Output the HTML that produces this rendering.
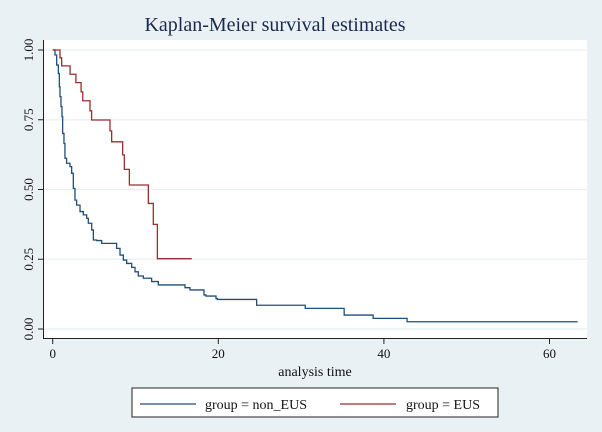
<!DOCTYPE html>
<html><head><meta charset="utf-8"><style>
html,body{margin:0;padding:0;background:#eaf1f4;}
svg{display:block;font-family:"Liberation Serif",serif;}
</style></head><body>
<svg id="chart" width="602" height="432" viewBox="0 0 602 432" xmlns="http://www.w3.org/2000/svg">
<rect x="0" y="0" width="602" height="432" fill="#eaf1f4"/>
<text x="275" y="31" text-anchor="middle" font-size="20" fill="#1a2a4e">Kaplan-Meier survival estimates</text>
<rect x="44" y="40" width="543" height="298" fill="#ffffff"/>
<g id="grid"></g>
<g id="axes"></g>
<g id="series"></g>
<text x="315" y="376" text-anchor="middle" font-size="14" fill="#111">analysis time</text>
<g>
<rect x="132" y="388" width="366" height="29" fill="#fff" stroke="#222" stroke-width="1"/>
<line x1="140" y1="404" x2="196" y2="404" stroke="#1f4e79" stroke-width="1.3"/>
<text x="205" y="409" font-size="14" fill="#111">group = non_EUS</text>
<line x1="340" y1="404" x2="396" y2="404" stroke="#9b2d30" stroke-width="1.3"/>
<text x="406" y="409" font-size="14" fill="#111">group = EUS</text>
</g>
</svg>
<script>
const xTicks = [0, 20, 40, 60];
const yTicks = [0, 0.25, 0.5, 0.75, 1];
const yTickLabels = ["0.00", "0.25", "0.50", "0.75", "1.00"];
const nonEusTimes = [0, 0.28, 0.48, 0.68, 0.8, 0.88, 1.0, 1.12, 1.2, 1.36, 1.48, 1.68, 2.09, 2.29, 2.49, 2.69, 2.89, 3.3, 3.7, 4.1, 4.3, 4.71, 4.91, 5.3, 5.92, 6.92, 7.72, 8.13, 8.53, 8.93, 9.54, 9.94, 10.34, 10.95, 11.95, 12.76, 15.78, 15.98, 16.58, 18.27, 18.51, 19.72, 19.88, 24.43, 24.63, 30.5, 35.2, 38.7, 42.8];
const nonEusSurv = [1.0, 0.982, 0.946, 0.916, 0.868, 0.833, 0.797, 0.761, 0.701, 0.665, 0.612, 0.594, 0.582, 0.558, 0.504, 0.462, 0.444, 0.421, 0.409, 0.397, 0.379, 0.355, 0.319, 0.317, 0.307, 0.307, 0.289, 0.265, 0.247, 0.235, 0.221, 0.205, 0.19, 0.182, 0.17, 0.158, 0.158, 0.148, 0.14, 0.122, 0.118, 0.109, 0.106, 0.106, 0.085, 0.074, 0.05, 0.038, 0.026];
const nonEusEnd = 63.4;
const eusTimes = [0, 0.88, 1.08, 2.1, 2.8, 3.43, 3.63, 4.5, 4.7, 6.92, 7.12, 8.45, 8.65, 9.26, 11.55, 12.15, 12.64];
const eusSurv = [1.0, 0.972, 0.943, 0.913, 0.883, 0.85, 0.818, 0.782, 0.749, 0.71, 0.671, 0.624, 0.572, 0.516, 0.45, 0.375, 0.252];
const eusEnd = 16.79;

const NS = "http://www.w3.org/2000/svg";
const X = t => 52.7 + t * 8.28;
const Y = s => 329 - s * 279;
function mk(tag, attrs, parent) {
  const el = document.createElementNS(NS, tag);
  for (const k in attrs) el.setAttribute(k, attrs[k]);
  parent.appendChild(el);
  return el;
}
const grid = document.getElementById('grid');
const axes = document.getElementById('axes');
const series = document.getElementById('series');
yTicks.forEach((v, i) => {
  const g = mk('line', {x1: 44, x2: 587, y1: Y(v), y2: Y(v), stroke: '#e8eff2', 'stroke-width': 1.2}, grid);
  
  
  const tk = mk('line', {x1: 38, x2: 43, y1: Y(v), y2: Y(v), stroke: '#222', 'stroke-width': 1}, axes);
  
  
  const tx = mk('text', {x: 0, y: 0, 'font-size': 13, fill: '#111', 'text-anchor': 'middle', transform: `translate(33,${Y(v)}) rotate(-90)`}, axes);
  tx.textContent = yTickLabels[i];
  
  
});
const yl = mk('line', {x1: 43.5, x2: 43.5, y1: 40, y2: 339, stroke: '#222', 'stroke-width': 1}, axes);


const xl = mk('line', {x1: 43, x2: 587, y1: 338.5, y2: 338.5, stroke: '#222', 'stroke-width': 1}, axes);


xTicks.forEach(v => {
  const tk = mk('line', {x1: X(v), x2: X(v), y1: 339, y2: 344, stroke: '#222', 'stroke-width': 1}, axes);
  
  
  const tx = mk('text', {x: X(v), y: 358, 'font-size': 13, fill: '#111', 'text-anchor': 'middle'}, axes);
  tx.textContent = String(v);
  
  
});
function stepPath(times, surv, end) {
  let d = `M${X(times[0])},${Y(surv[0])}`;
  for (let i = 1; i < times.length; i++) {
    d += ` H${X(times[i])} V${Y(surv[i])}`;
  }
  d += ` H${X(end)}`;
  return d;
}
const p1 = mk('path', {d: stepPath(nonEusTimes, nonEusSurv, nonEusEnd), fill: 'none', stroke: '#1f4e79', 'stroke-width': 1.3}, series);


const p2 = mk('path', {d: stepPath(eusTimes, eusSurv, eusEnd), fill: 'none', stroke: '#9b2d30', 'stroke-width': 1.3}, series);


</script>
</body></html>
